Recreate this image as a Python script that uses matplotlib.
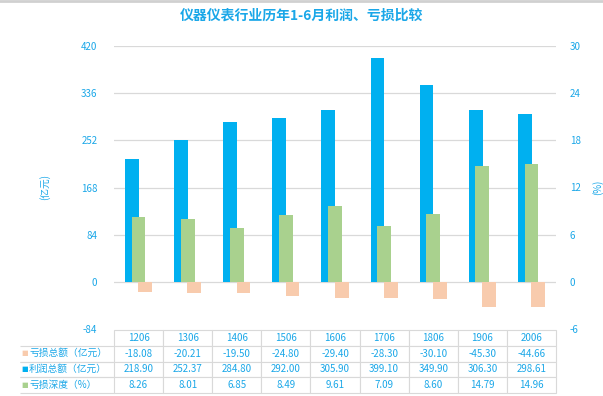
import matplotlib.pyplot as plt
from matplotlib.table import Table
import numpy as np

plt.rcParams['font.family'] = ['Noto Sans CJK SC', 'DejaVu Sans']
plt.rcParams['axes.unicode_minus'] = False

# data
periods = ['1206', '1306', '1406', '1506', '1606', '1706', '1806', '1906', '2006']
loss_total = [-18.08, -20.21, -19.50, -24.80, -29.40, -28.30, -30.10, -45.30, -44.66]
profit_total = [218.90, 252.37, 284.80, 292.00, 305.90, 399.10, 349.90, 306.30, 298.61]
loss_depth = [8.26, 8.01, 6.85, 8.49, 9.61, 7.09, 8.60, 14.79, 14.96]
row_labels = ['亏损总额（亿元）', '利润总额（亿元）', '亏损深度（%）']

c_blue = '#00B0F0'
c_green = '#A9D18E'
c_orange = '#F8CBAD'
c_text = '#1AA7E8'
c_grid = '#D9D9D9'

fig = plt.figure(figsize=(6.03, 3.96), dpi=100)
ax = fig.add_axes([114 / 603, 1 - 329 / 396, 442 / 603, 283 / 396])
ax2 = ax.twinx()

x = np.arange(len(periods))
w = 0.28
ax.bar(x - 0.135, profit_total, w, color=c_blue, zorder=2)
ax.bar(x + 0.135, loss_total, w, color=c_orange, zorder=2)
ax2.bar(x, loss_depth, w, color=c_green, zorder=3)

ax.set_xlim(-0.5, len(periods) - 0.5)
ax.set_ylim(-84, 420)
ax2.set_ylim(-6, 30)
ax.set_yticks(np.arange(-84, 421, 84))
ax2.set_yticks(np.arange(-6, 31, 6))
ax.set_xticks([])
for a in (ax, ax2):
    for s in a.spines.values():
        s.set_visible(False)
    a.tick_params(axis='y', length=0, labelsize=7, colors=c_text)
ax.tick_params(axis='y', pad=12)
ax2.tick_params(axis='y', pad=10)
for t in np.arange(0, 421, 84):
    ax.axhline(t, color=c_grid, lw=0.9, zorder=1)

ax.set_ylabel('(亿元)', color=c_text, fontsize=7, labelpad=22)
ax2.set_ylabel('(%)', color=c_text, fontsize=7, labelpad=8)

fig.text(0.5, 1 - 16 / 396, '仪器仪表行业历年1-6月利润、亏损比较', ha='center', va='center',
         fontsize=10, color=c_text, fontweight='bold')

# data table under the chart
lab_w = 94 / 442
col_w = 1 / len(periods)
row_h = 0.056
tbl = Table(ax, bbox=[-lab_w, -4 * row_h - 0.003, 1 + lab_w, 4 * row_h])
rows = [loss_total, profit_total, loss_depth]
c = tbl.add_cell(0, 0, lab_w, row_h, text='', loc='left')
c.visible_edges = ''
for j, p in enumerate(periods):
    cell = tbl.add_cell(0, j + 1, col_w, row_h, text=p, loc='center')
for i, vals in enumerate(rows):
    cell = tbl.add_cell(i + 1, 0, lab_w, row_h, text='', loc='left')
    cell.visible_edges = 'BT'
    for j, v in enumerate(vals):
        tbl.add_cell(i + 1, j + 1, col_w, row_h, text=f'{v:.2f}', loc='center')
tbl.auto_set_font_size(False)
tbl.set_fontsize(7)
for cell in tbl.get_celld().values():
    cell.set_edgecolor(c_grid)
    cell.set_linewidth(0.8)
    cell.get_text().set_color(c_text)
ax.add_table(tbl)

# row labels with legend keys
for i, (lab, col) in enumerate(zip(row_labels, [c_orange, c_blue, c_green])):
    yk = 1 - (352.5 + i * 16) / 396
    fig.text(21 / 603, yk, '■', color=col, fontsize=5, va='center', ha='left',
             family='DejaVu Sans')
    fig.text(29 / 603, yk, lab, color=c_text, fontsize=7, va='center', ha='left')

fig.add_artist(plt.Line2D([0, 1], [0.997, 0.997], color='#D0D0D0', lw=2))

fig.savefig('out.png', dpi=100)
